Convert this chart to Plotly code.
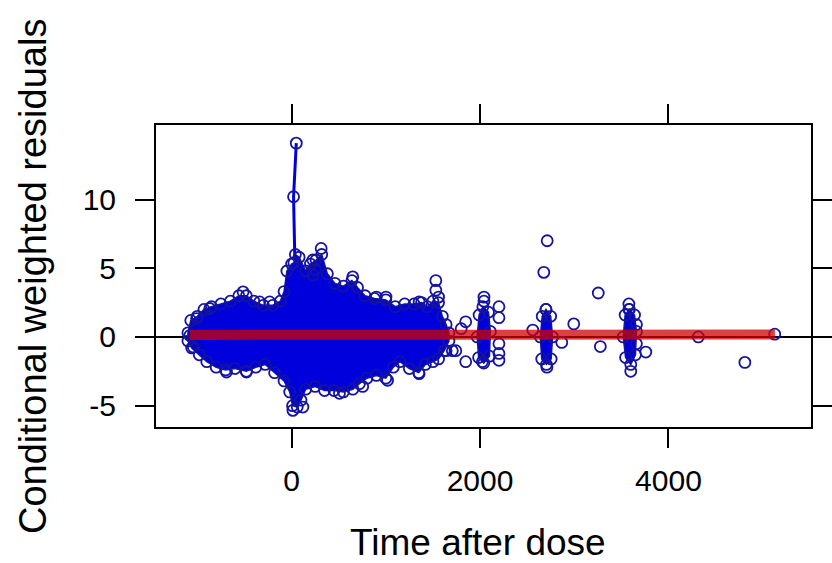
import plotly.graph_objects as go

# ---- data ----
# dense body of the residual cloud (upper and lower envelope)
blob_upper_t = [-1100, -1070, -1000, -930, -850, -750, -650, -560, -480, -400, -300, -200, -120, -80, -50, 0, 25, 40,
                80, 150, 200, 260, 320, 380, 460, 550, 640, 700, 780, 880, 1000, 1100, 1200, 1300, 1380, 1440,
                1500, 1560, 1600, 1640, 1670]
blob_upper_r = [0.3, 1.2, 1.5, 2.0, 2.2, 2.4, 2.6, 3.0, 3.0, 2.6, 2.3, 2.3, 2.6, 3.3, 4.8, 5.3, 5.4, 6.0,
                5.8, 4.8, 5.3, 5.6, 6.0, 4.6, 3.9, 3.7, 4.1, 3.6, 3.0, 2.8, 2.7, 2.2, 2.4, 2.4, 2.5, 2.2,
                2.6, 2.5, 1.5, 0.9, 0.3]
blob_lower_t = [-1100, -1060, -980, -900, -800, -700, -600, -480, -380, -280, -180, -80, -20, 10, 60, 100, 150,
                250, 350, 450, 550, 650, 720, 800, 900, 1000, 1080, 1150, 1250, 1350, 1420, 1500, 1560, 1620, 1670]
blob_lower_r = [-0.3, -0.8, -1.3, -1.8, -2.2, -2.4, -2.3, -2.5, -2.2, -2.0, -2.6, -3.2, -4.0, -5.0, -5.1, -4.6, -3.8,
                -3.6, -3.9, -3.9, -4.0, -3.8, -3.4, -3.0, -2.8, -3.0, -2.2, -1.8, -2.3, -2.6, -2.0, -1.8, -1.6, -1.0, -0.3]

# later sampling clusters (outline of each dense group)
cluster_a_t = [1970, 1990, 2030, 2090, 2110, 2100, 2040, 1985]
cluster_a_r = [0.0, 1.6, 2.2, 1.8, 0.4, -1.4, -1.9, -1.5]
cluster_b_t = [2640, 2660, 2700, 2750, 2770, 2755, 2705, 2655]
cluster_b_r = [0.0, 1.5, 2.0, 1.5, 0.0, -1.6, -2.0, -1.6]
cluster_c_t = [3520, 3540, 3585, 3640, 3660, 3650, 3600, 3545]
cluster_c_r = [0.0, 1.6, 2.0, 1.6, 0.4, -1.3, -2.0, -1.5]

# spike near time 0
spike_t = [50, 21, 35]
spike_r = [14.1, 10.2, 5.5]

# individual observations that stand out
point_t = [-1080, -1044, -1008, -868, -691, -515, -479, -339, -233, 14, 120, 226, 226, 250, 314, 508, 649, 755,
           900, 1002, 1019, 1354, 1354, 1531, 1531, 1560, 1640,
           50, 21,
           1706, 1743, 1800, 1848, 1848, 2025, 2042, 2042, 2201, 2201, 2201, 2201, 2201,
           2560, 2677, 2700, 2710, 2713, 2868, 2995, 3255, 3277,
           3580, 3580, 3600, 3660, 3660, 3760, 4317, 4811, 5128]
point_r = [0.1, -0.73, 1.34, 2.07, -2.55, 3.28, -2.55, 2.55, 2.55, -5.34, -5.1, 5.6, 4.5, 4.9, 6.44, -4.1, 4.37, -3.6,
           2.9, 2.9, -3.15, 2.55, -2.67, 4.1, 3.4, 2.9, -1.0,
           14.1, 10.2,
           -1.0, -1.0, 0.6, 1.1, -1.8, -1.8, 2.9, 2.6, 2.2, 1.4, -0.5, -1.2, -1.7,
           0.5, 4.7, 2.0, -2.2, 7.0, -0.4, 0.95, 3.2, -0.7,
           2.4, 2.0, -2.5, 0.9, -0.5, -1.1, 0.0, -1.85, 0.2]

# smooth (loess) line
smooth_t = [-1080, 0, 1000, 2000, 3000, 4000, 5130]
smooth_r = [0.15, 0.15, 0.13, 0.12, 0.12, 0.13, 0.18]

x_ticks = [0, 2000, 4000]
y_ticks = [-5, 0, 5, 10]
x_range = [-1439, 5513]
y_range = [-6.55, 15.42]

BLUE_FILL = "#0000DC"
BLUE_LINE = "#1414A0"
FONT = "Liberation Sans, Arial, sans-serif"

fig = go.Figure()

def poly(t, r):
    fig.add_trace(go.Scatter(x=t + [t[0]], y=r + [r[0]], mode="lines", fill="toself",
                             fillcolor=BLUE_FILL, line=dict(color=BLUE_LINE, width=1.5),
                             hoverinfo="skip", showlegend=False))

poly(blob_upper_t + blob_lower_t[::-1], blob_upper_r + blob_lower_r[::-1])
poly(cluster_a_t, cluster_a_r)
poly(cluster_b_t, cluster_b_r)
poly(cluster_c_t, cluster_c_r)

fig.add_trace(go.Scatter(x=spike_t, y=spike_r, mode="lines",
                         line=dict(color=BLUE_FILL, width=3), showlegend=False))

circle_marker = dict(symbol="circle-open", size=11, color=BLUE_LINE, line=dict(width=1.8, color=BLUE_LINE))

# circles along the edge of the dense cloud and clusters
fig.add_trace(go.Scatter(x=blob_upper_t + blob_lower_t + cluster_a_t + cluster_b_t + cluster_c_t,
                         y=blob_upper_r + blob_lower_r + cluster_a_r + cluster_b_r + cluster_c_r,
                         mode="markers", marker=circle_marker, showlegend=False))

fig.add_trace(go.Scatter(x=point_t, y=point_r, mode="markers", marker=circle_marker, showlegend=False))

fig.add_trace(go.Scatter(x=smooth_t, y=smooth_r, mode="lines",
                         line=dict(color="rgba(210,0,0,0.75)", width=10), showlegend=False))

fig.add_shape(type="line", xref="paper", x0=0, x1=1, yref="y", y0=0, y1=0,
              line=dict(color="black", width=2), layer="below")

axis_common = dict(showgrid=False, zeroline=False, showline=True, linecolor="black", linewidth=2,
                   mirror="ticks", ticks="outside", ticklen=19, tickwidth=2, tickcolor="black",
                   tickfont=dict(family=FONT, size=30, color="black"))

fig.update_xaxes(range=x_range, tickvals=x_ticks, ticktext=[str(v) for v in x_ticks],
                 ticklabelstandoff=7, **axis_common)
fig.update_yaxes(range=y_range, tickvals=y_ticks, ticktext=[str(v) for v in y_ticks],
                 ticklabelstandoff=13, **axis_common)

fig.add_annotation(text="Time after dose", xref="paper", yref="paper", x=0.4917, y=-0.384,
                   xanchor="center", yanchor="middle", showarrow=False,
                   font=dict(family=FONT, size=37, color="black"))
fig.add_annotation(text="Conditional weighted residuals", xref="paper", yref="paper", x=-0.1876, y=0.497,
                   xanchor="center", yanchor="middle", textangle=-90, showarrow=False,
                   font=dict(family=FONT, size=38, color="black"))

fig.update_layout(width=832, height=563, margin=dict(l=156, r=0, t=125, b=136),
                  paper_bgcolor="white", plot_bgcolor="white")

fig.write_html("out.html")
